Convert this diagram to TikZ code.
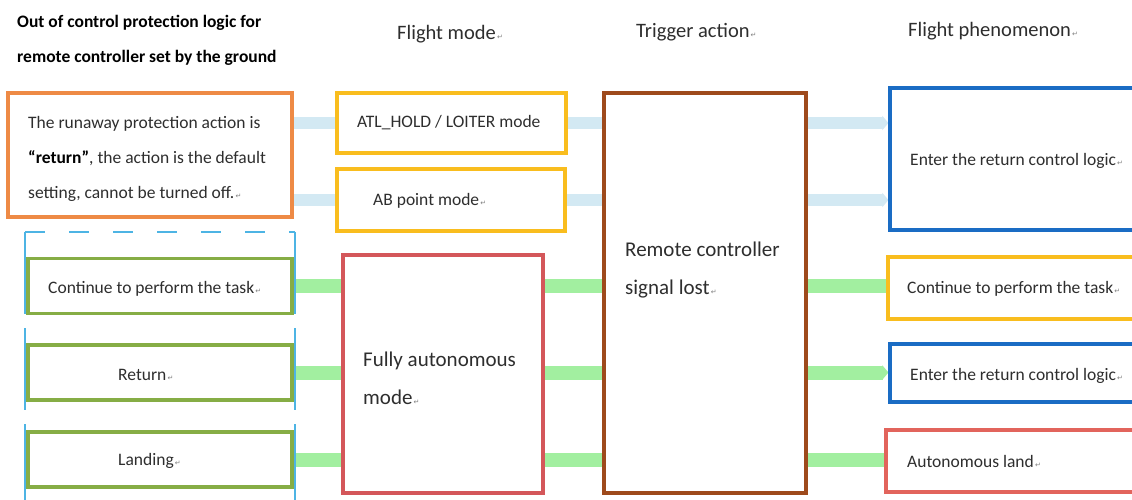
\documentclass[tikz,border=0pt]{standalone}
\usepackage{fontspec}
\setmainfont{Carlito}
\newfontfamily\symfont{DejaVu Sans}
\usetikzlibrary{arrows.meta,backgrounds}
\definecolor{cOrange}{HTML}{EE8A45}
\definecolor{cYellow}{HTML}{F9BD1E}
\definecolor{cBrown}{HTML}{9E4A1C}
\definecolor{cBlue}{HTML}{1A6CC4}
\definecolor{cRed}{HTML}{D4575A}
\definecolor{cRedL}{HTML}{E2645C}
\definecolor{cGreen}{HTML}{86AD45}
\definecolor{cDash}{HTML}{4DB4E4}
\definecolor{cLink}{HTML}{D3E9F3}
\definecolor{cGLink}{HTML}{A2EFA0}
\definecolor{cText}{HTML}{2E2E2E}
\newcommand\retmark{{\symfont\fontsize{7}{7}\selectfont\color{gray}\,↵}}
\tikzset{
  box/.style={draw, fill=white, line width=3.2pt, inner sep=0pt},
  txt/.style={anchor=base west, inner sep=0pt, text=cText, font=\fontsize{17.5}{20}\selectfont},
  bigtxt/.style={txt, font=\fontsize{21}{24}\selectfont},
  headtxt/.style={txt, font=\fontsize{20.5}{23}\selectfont},
  boldtxt/.style={txt, text=black, font=\bfseries\fontsize{17.5}{20}\selectfont},
  blink/.style={draw=cLink, line width=12pt},
  glink/.style={draw=cGLink, line width=14pt},
  tipped/.style={-{Triangle[length=6pt,width=14pt]}},
}
\begin{document}
\begin{tikzpicture}[x=1pt,y=-1pt]
\useasboundingbox (0,0) rectangle (1132,499);

% headers
\node[boldtxt] (h1a) at (17,27) {Out of control protection logic for};
\node[boldtxt] (h1b) at (17,62) {remote controller set by the ground};
\node[headtxt] (h2) at (397,39) {Flight mode\retmark};
\node[headtxt] (h3) at (636,37) {Trigger action\retmark};
\node[headtxt] (h4) at (908,36) {Flight phenomenon\retmark};

% dashed group frame
\draw[cDash, line width=2.4pt, dash pattern=on 20pt off 24pt] (25,232) -- (295,232);
\draw[cDash, line width=2.4pt, dash pattern=on 82pt off 14pt] (25,232) -- (25,505);
\draw[cDash, line width=2.4pt, dash pattern=on 82pt off 14pt] (295,232) -- (295,505);

% boxes
\node[box, draw=cOrange, minimum width=284pt, minimum height=124pt] (orange) at (150,155) {};
\node[box, draw=cYellow, minimum width=229pt, minimum height=60pt] (ymode1) at (451.5,123) {};
\node[box, draw=cYellow, minimum width=228pt, minimum height=62pt] (ymode2) at (451,200) {};
\node[box, draw=cBrown, minimum width=202pt, minimum height=400pt] (trigger) at (705,293) {};
\node[box, draw=cBlue, minimum width=254pt, minimum height=142pt] (rblue1) at (1017,159) {};

\node[box, draw=cGreen, minimum width=264pt, minimum height=55pt] (g1) at (160,286) {};
\node[box, draw=cGreen, minimum width=264pt, minimum height=55pt] (g2) at (160,372.5) {};
\node[box, draw=cGreen, minimum width=264pt, minimum height=55pt] (g3) at (160,459.5) {};
\node[box, draw=cRed, minimum width=200pt, minimum height=238pt] (auto) at (443,374) {};

\node[box, draw=cYellow, minimum width=256pt, minimum height=62pt] (ryellow) at (1016,288) {};
\node[box, draw=cBlue, minimum width=254pt, minimum height=58pt] (rblue2) at (1017,373) {};
\node[box, draw=cRedL, minimum width=258pt, minimum height=62pt] (rred) at (1015,461) {};

% connectors
\begin{pgfonlayer}{background}
\fill[white] (0,0) rectangle (1132,499);
\draw[blink] (orange.east |- ymode1.west) -- (ymode1.west);
\draw[blink] (orange.east |- ymode2.west) -- (ymode2.west);
\draw[blink] (ymode1.east) -- (trigger.west |- ymode1.east);
\draw[blink] (ymode2.east) -- (trigger.west |- ymode2.east);
\draw[blink, tipped, cLink] (trigger.east |- ymode1.east) -- (rblue1.west |- ymode1.east);
\draw[blink, tipped, cLink] (trigger.east |- ymode2.east) -- (rblue1.west |- ymode2.east);

\draw[glink] (g1.east) -- (auto.west |- g1.east);
\draw[glink] (g2.east) -- (auto.west |- g2.east);
\draw[glink] (g3.east) -- (auto.west |- g3.east);
\draw[glink] (auto.east |- g1.east) -- (trigger.west |- g1.east);
\draw[glink] (auto.east |- g2.east) -- (trigger.west |- g2.east);
\draw[glink] (auto.east |- g3.east) -- (trigger.west |- g3.east);
\draw[glink] (trigger.east |- g1.east) -- (ryellow.west |- g1.east);
\draw[glink, tipped, cGLink] (trigger.east |- g2.east) -- (rblue2.west |- g2.east);
\draw[glink] (trigger.east |- g3.east) -- (rred.west |- g3.east);
\end{pgfonlayer}

% texts
\node[txt] (o1) at (28,128) {The runaway protection action is};
\node[txt] (o2) at (28,163) {\textbf{\color{black}“return”}, the action is the default};
\node[txt] (o3) at (28,198) {setting, cannot be turned off.\retmark};
\node[txt] (m1) at (357,127) {ATL\_HOLD / LOITER mode};
\node[txt] (m2) at (373,205) {AB point mode\retmark};
\node[bigtxt] (tr1) at (625,256) {Remote controller};
\node[bigtxt] (tr2) at (625,294) {signal lost\retmark};
\node[bigtxt] (fa1) at (363,366) {Fully autonomous};
\node[bigtxt] (fa2) at (363,404) {mode\retmark};
\node[txt] (gt1) at (48,293) {Continue to perform the task\retmark};
\node[txt] (gt2) at (118,380) {Return\retmark};
\node[txt] (gt3) at (118,465) {Landing\retmark};
\node[txt] (rt1) at (910,165) {Enter the return control logic\retmark};
\node[txt] (rt2) at (907,293) {Continue to perform the task\retmark};
\node[txt] (rt3) at (910,380) {Enter the return control logic\retmark};
\node[txt] (rt4) at (907,467) {Autonomous land\retmark};
\end{tikzpicture}
\end{document}
